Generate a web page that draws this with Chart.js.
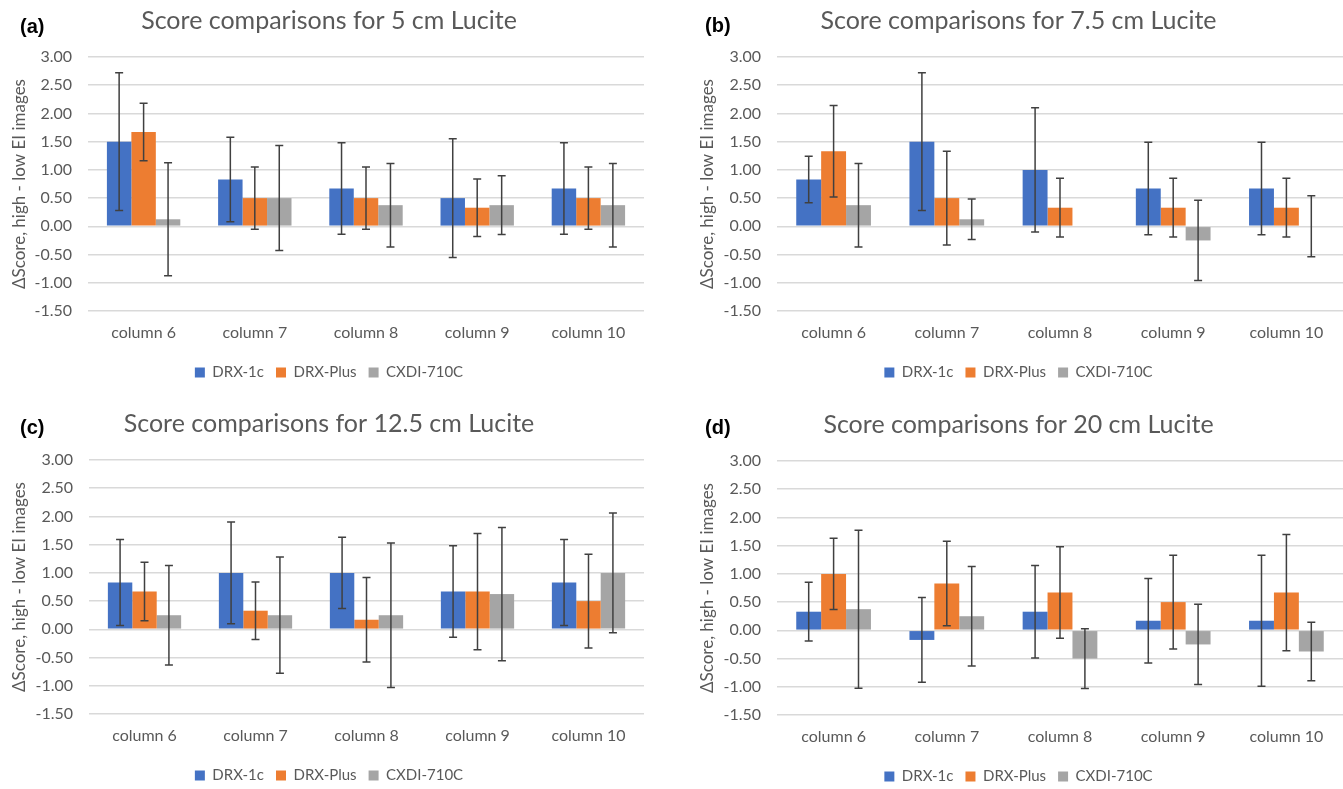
<!DOCTYPE html>
<html>
<head>
<meta charset="utf-8">
<script src="https://cdn.jsdelivr.net/npm/chart.js@4.4.1/dist/chart.umd.min.js"></script>
<style>
  html, body { margin: 0; padding: 0; background: #fff; overflow: hidden; }
  body { width: 1343px; height: 789px; position: relative; }
  canvas { position: absolute; }
  .tag { position: absolute; font: bold 20px "Liberation Sans", Arial, sans-serif; color: #000; line-height: 24px; }
</style>
</head>
<body>
<canvas id="chartA" width="658" height="390" style="left:0px;top:0px"></canvas>
<canvas id="chartB" width="649" height="390" style="left:694px;top:0px"></canvas>
<canvas id="chartC" width="658" height="390" style="left:0px;top:403px"></canvas>
<canvas id="chartD" width="649" height="390" style="left:694px;top:404px"></canvas>
<div class="tag" style="left:20px;top:14px">(a)</div>
<div class="tag" style="left:705px;top:13px">(b)</div>
<div class="tag" style="left:20px;top:415px">(c)</div>
<div class="tag" style="left:705px;top:415px">(d)</div>
<script>
// categories, series and axis ticks
const columns = ['column 6', 'column 7', 'column 8', 'column 9', 'column 10'];
const seriesNames = ['DRX-1c', 'DRX-Plus', 'CXDI-710C'];
const yTickValues = [3.0, 2.5, 2.0, 1.5, 1.0, 0.5, 0.0, -0.5, -1.0, -1.5];
const yAxisTitle = '\u0394Score, high - low EI images';
const titles = [
  'Score comparisons for 5 cm Lucite',
  'Score comparisons for 7.5 cm Lucite',
  'Score comparisons for 12.5 cm Lucite',
  'Score comparisons for 20 cm Lucite'
];

// (a) 5 cm
const drx1cA = [1.50, 0.83, 0.67, 0.50, 0.67];
const drx1cErrA = [1.22, 0.75, 0.81, 1.05, 0.81];
const drxPlusA = [1.67, 0.50, 0.50, 0.33, 0.50];
const drxPlusErrA = [0.51, 0.55, 0.55, 0.51, 0.55];
const cxdiA = [0.125, 0.50, 0.375, 0.375, 0.375];
const cxdiErrA = [1.00, 0.93, 0.74, 0.52, 0.74];

// (b) 7.5 cm
const drx1cB = [0.83, 1.50, 1.00, 0.67, 0.67];
const drx1cErrB = [0.41, 1.22, 1.10, 0.82, 0.82];
const drxPlusB = [1.33, 0.50, 0.33, 0.33, 0.33];
const drxPlusErrB = [0.81, 0.83, 0.52, 0.52, 0.52];
const cxdiB = [0.375, 0.125, 0.0, -0.25, 0.0];
const cxdiErrB = [0.74, 0.36, 0.0, 0.71, 0.54];

// (c) 12.5 cm
const drx1cC = [0.83, 1.00, 1.00, 0.67, 0.83];
const drx1cErrC = [0.76, 0.90, 0.63, 0.81, 0.76];
const drxPlusC = [0.67, 0.33, 0.17, 0.67, 0.50];
const drxPlusErrC = [0.52, 0.51, 0.75, 1.03, 0.83];
const cxdiC = [0.25, 0.25, 0.25, 0.625, 1.00];
const cxdiErrC = [0.88, 1.03, 1.28, 1.18, 1.06];

// (d) 20 cm
const drx1cD = [0.33, -0.17, 0.33, 0.17, 0.17];
const drx1cErrD = [0.52, 0.75, 0.82, 0.75, 1.16];
const drxPlusD = [1.00, 0.83, 0.67, 0.50, 0.67];
const drxPlusErrD = [0.63, 0.75, 0.81, 0.83, 1.03];
const cxdiD = [0.375, 0.25, -0.50, -0.25, -0.375];
const cxdiErrD = [1.40, 0.88, 0.53, 0.71, 0.52];

const barColors = ['#4472C4', '#ED7D31', '#A5A5A5'];

Chart.defaults.font.family = 'Lato, "Open Sans", sans-serif';
Chart.defaults.color = '#595959';

// draws +/- error bars from each dataset's "errors" list
const errorBars = {
  id: 'errorBars',
  afterDatasetsDraw(chart) {
    const ctx = chart.ctx;
    const y = chart.scales.y;
    ctx.save();
    ctx.strokeStyle = '#404040';
    ctx.lineWidth = 1.5;
    chart.data.datasets.forEach((ds, i) => {
      const meta = chart.getDatasetMeta(i);
      meta.data.forEach((bar, j) => {
        const e = ds.errors[j];
        if (!e) return;
        const top = y.getPixelForValue(ds.data[j] + e);
        const bot = y.getPixelForValue(ds.data[j] - e);
        ctx.beginPath();
        ctx.moveTo(bar.x, top); ctx.lineTo(bar.x, bot);
        ctx.moveTo(bar.x - 4, top); ctx.lineTo(bar.x + 4, top);
        ctx.moveTo(bar.x - 4, bot); ctx.lineTo(bar.x + 4, bot);
        ctx.stroke();
      });
    });
    ctx.restore();
  }
};

const legendFont = 15;
const legendPad = 12;
const legendHeight = legendFont + legendPad + 10;

function makeChart(id, title, values, errors, yWidth, rightGap, yTitlePad) {
  new Chart(document.getElementById(id), {
    type: 'bar',
    data: {
      labels: columns,
      datasets: seriesNames.map((name, i) => ({
        label: name,
        data: values[i],
        errors: errors[i],
        backgroundColor: barColors[i],
        barPercentage: 1.0,
        categoryPercentage: 0.66
      }))
    },
    options: {
      responsive: false,
      animation: false,
      events: [],
      layout: { padding: 0 },
      plugins: {
        title: {
          display: true,
          text: title,
          color: '#595959',
          font: { size: 25, weight: 'normal' },
          padding: { top: 6, bottom: 21 }
        },
        legend: {
          position: 'bottom',
          labels: {
            boxWidth: 10,
            boxHeight: 10,
            padding: legendPad,
            color: '#595959',
            font: { size: legendFont }
          }
        },
        tooltip: { enabled: false }
      },
      scales: {
        x: {
          grid: { display: false, drawTicks: false },
          border: { display: false },
          ticks: { font: { size: 16 }, padding: 12, color: '#595959' },
          afterFit: s => { s.height = 390 - legendHeight - 311; }
        },
        y: {
          min: Math.min(...yTickValues),
          max: Math.max(...yTickValues),
          border: { display: false },
          grid: { color: '#D9D9D9', lineWidth: 1.5, drawTicks: false },
          ticks: {
            stepSize: 0.5,
            padding: 16,
            font: { size: 16 },
            color: '#595959',
            callback: v => v.toFixed(2)
          },
          title: {
            display: true,
            text: yAxisTitle,
            color: '#595959',
            font: { size: 17 },
            padding: { top: yTitlePad, bottom: 0 }
          },
          afterFit: s => { s.width = yWidth; }
        },
        y2: {
          position: 'right',
          display: rightGap > 0,
          grid: { display: false },
          border: { display: false },
          ticks: { display: false },
          afterFit: s => { s.width = rightGap; }
        }
      }
    },
    plugins: [errorBars]
  });
}

makeChart('chartA', titles[0], [drx1cA, drxPlusA, cxdiA], [drx1cErrA, drxPlusErrA, cxdiErrA], 88, 14, 9);
makeChart('chartB', titles[1], [drx1cB, drxPlusB, cxdiB], [drx1cErrB, drxPlusErrB, cxdiErrB], 83, 0, 3);
makeChart('chartC', titles[2], [drx1cC, drxPlusC, cxdiC], [drx1cErrC, drxPlusErrC, cxdiErrC], 89, 14, 9);
makeChart('chartD', titles[3], [drx1cD, drxPlusD, cxdiD], [drx1cErrD, drxPlusErrD, cxdiErrD], 83, 0, 3);
</script>
</body>
</html>
